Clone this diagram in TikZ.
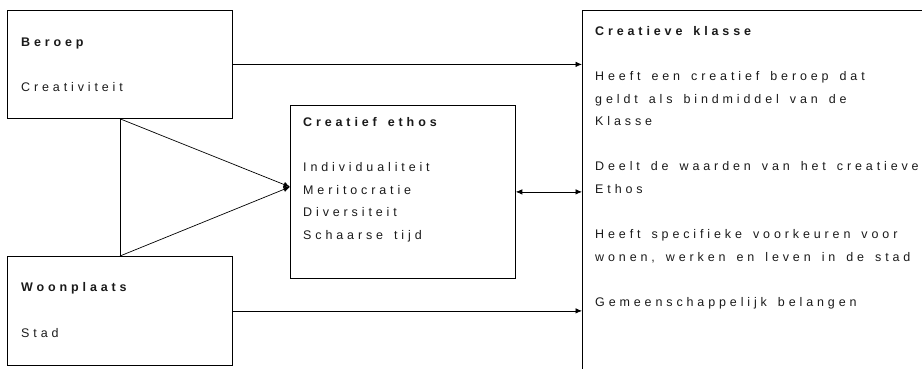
\documentclass[tikz,border=0pt]{standalone}
\usepackage{fontspec}
\setmainfont{Liberation Sans}[LetterSpace=31,WordSpace=1.5]
\usepackage{xcolor}
\definecolor{linecolor}{HTML}{000000}
\definecolor{textcolor}{HTML}{1a1a1a}
\usetikzlibrary{positioning,arrows.meta}
\tikzset{
    box/.style={
        rectangle,
        draw=linecolor,
        line width=0.8pt,
        inner sep=0pt,
        anchor=north west,
    },
    boxtext/.style={
        anchor=north west,
        align=left,
        inner sep=0pt,
        text=textcolor,
        font=\fontsize{12.5}{22.6}\selectfont,
    },
    link/.style={
        -{Latex[length=6.5pt,width=5.5pt]},
        line width=0.7pt,
        linecolor,
    },
    duallink/.style={
        {Latex[length=6.5pt,width=5.5pt]}-{Latex[length=6.5pt,width=5.5pt]},
        line width=0.7pt,
        linecolor,
    },
    plainline/.style={
        line width=0.7pt,
        linecolor,
    },
}

\begin{document}
\begin{tikzpicture}[x=1pt,y=-1pt]
    \useasboundingbox (0,0) rectangle (922,368);

    % Beroep
    \node[box, minimum width=225pt, minimum height=108pt] (beroep) at (7,10) {};
    \node[boxtext] (beroeptxt) at (21,37.5) {\textbf{Beroep}\\ \\ Creativiteit};

    % Woonplaats
    \node[box, minimum width=225pt, minimum height=109pt] (woon) at (7,256) {};
    \node[boxtext] (woontxt) at (21,282.7) {\textbf{Woonplaats}\\ \\ Stad};

    % Creatief ethos
    \node[box, minimum width=225pt, minimum height=173pt] (ethos) at (290,105) {};
    \node[boxtext] (ethostxt) at (303,117.3) {
        \textbf{Creatief ethos}\\ \\
        Individualiteit\\
        Meritocratie\\
        Diversiteit\\
        Schaarse tijd
    };

    % Creatieve klasse (runs past the right and bottom edge)
    \node[box, minimum width=360pt, minimum height=380pt] (klasse) at (582,10) {};
    \node[boxtext] (klassetxt) at (595,26) {
        \textbf{Creatieve klasse}\\ \\
        Heeft een creatief beroep dat\\
        geldt als bindmiddel van de\\
        Klasse\\ \\
        Deelt de waarden van het creatieve\\
        Ethos\\ \\
        Heeft specifieke voorkeuren voor\\
        wonen, werken en leven in de stad\\ \\
        Gemeenschappelijk belangen
    };

    % Triangle into the ethos
    \coordinate (tritop) at ([xshift=113pt]beroep.south west);
    \coordinate (tribot) at ([xshift=113pt]woon.north west);
    \coordinate (tip) at ([yshift=5pt]ethos.west);
    \draw[plainline] (tritop) -- (tribot);
    \draw[link] (tritop) -- (tip);
    \draw[link] (tribot) -- (tip);

    % Links to the klasse
    \draw[link] (beroep.east) -- (beroep.east -| klasse.west);
    \draw[duallink] (ethos.east) -- (ethos.east -| klasse.west);
    \draw[link] (woon.east) -- (woon.east -| klasse.west);

\end{tikzpicture}
\end{document}
